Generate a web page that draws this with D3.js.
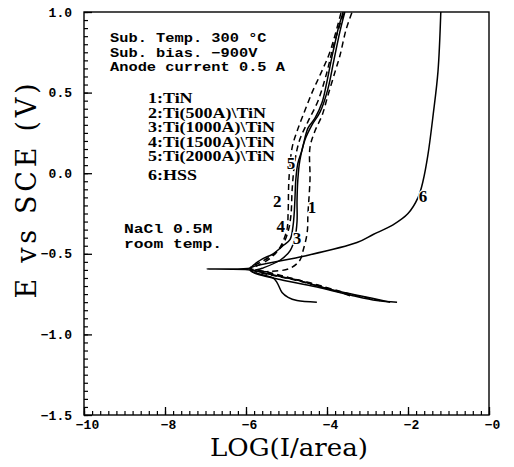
<!DOCTYPE html>
<html>
<head>
<meta charset="utf-8">
<script src="https://cdn.jsdelivr.net/npm/d3@7"></script>
<style>
  html, body { margin: 0; padding: 0; background: #fff; }
  svg { display: block; }
</style>
</head>
<body>
<svg id="chart" width="514" height="467"></svg>
<script>
// ---------- data ----------
const xTickValues = [-10, -8, -6, -4, -2, 0];
const xTickLabels = ["−10", "−8", "−6", "−4", "−2", "−0"];
const yTickValues = [-1.5, -1.0, -0.5, 0.0, 0.5, 1.0];
const yTickLabels = ["−1.5", "−1.0", "−0.5", "0.0", "0.5", "1.0"];

const curveNames = ["1", "2", "3", "4", "5", "6"];
const curveDashed = [true, true, false, true, false, false];

// each curve: [log(I/area), E vs SCE (V)]
const curve1 = [[-3.80,-0.73],[-4.67,-0.67],[-5.41,-0.63],[-5.78,-0.61],[-5.41,-0.61],[-4.91,-0.59],
  [-4.67,-0.54],[-4.59,-0.48],[-4.49,-0.37],[-4.47,-0.25],[-4.42,-0.04],[-4.42,0.16],[-4.30,0.26],
  [-4.12,0.36],[-3.98,0.48],[-3.80,0.63],[-3.68,0.73],[-3.53,0.89],[-3.38,1.00]];
const curve2 = [[-3.43,-0.76],[-4.17,-0.70],[-4.91,-0.65],[-5.53,-0.61],[-5.90,-0.59],
  [-5.78,-0.58],[-5.41,-0.53],[-5.16,-0.46],[-4.99,-0.35],[-4.96,-0.25],[-4.94,-0.04],[-4.86,0.16],
  [-4.74,0.26],[-4.59,0.36],[-4.37,0.50],[-4.17,0.61],[-3.93,0.75],[-3.65,1.00]];
const curve3 = [[-4.25,-0.80],[-4.74,-0.79],[-4.96,-0.77],[-5.11,-0.74],[-5.23,-0.68],[-5.33,-0.65],
  [-5.60,-0.63],[-5.85,-0.61],[-5.60,-0.59],[-5.16,-0.54],[-4.91,-0.48],[-4.79,-0.40],[-4.74,-0.30],
  [-4.74,-0.17],[-4.72,-0.04],[-4.67,0.08],[-4.54,0.21],[-4.37,0.30],[-4.17,0.38],[-3.98,0.52],
  [-3.83,0.70],[-3.68,0.88],[-3.56,1.00]];
const curve4 = [[-2.69,-0.79],[-3.43,-0.75],[-4.42,-0.68],[-5.28,-0.63],[-5.90,-0.59],
  [-5.70,-0.56],[-5.36,-0.51],[-5.11,-0.45],[-4.96,-0.36],[-4.89,-0.26],[-4.86,-0.10],[-4.79,0.08],
  [-4.67,0.21],[-4.47,0.32],[-4.22,0.45],[-4.02,0.61],[-3.83,0.80],[-3.58,1.00]];
const curve5 = [[-2.27,-0.80],[-2.77,-0.79],[-3.36,-0.76],[-4.17,-0.71],[-5.16,-0.66],[-5.90,-0.60],
  [-5.65,-0.54],[-5.33,-0.50],[-5.09,-0.45],[-4.91,-0.41],[-4.84,-0.33],[-4.81,-0.25],[-4.79,-0.15],
  [-4.77,-0.04],[-4.72,0.06],[-4.62,0.14],[-4.47,0.28],[-4.30,0.34],[-4.12,0.44],[-4.00,0.57],
  [-3.88,0.72],[-3.80,0.81],[-3.73,0.89],[-3.60,1.00]];
const curve6 = [[-2.44,-0.80],[-3.19,-0.76],[-3.93,-0.72],[-4.79,-0.66],[-5.53,-0.62],[-5.90,-0.60],
  [-6.96,-0.594],[-5.90,-0.59],[-5.83,-0.58],[-4.67,-0.52],[-3.26,-0.43],[-2.86,-0.38],[-2.37,-0.32],
  [-2.00,-0.25],[-1.75,-0.15],[-1.63,-0.05],[-1.51,0.11],[-1.38,0.36],[-1.26,0.63],[-1.19,1.00]];
const curves = [curve1, curve2, curve3, curve4, curve5, curve6];

// curve number labels at [log(I/area), E]
const curveLabelPos = [[-4.37,-0.21],[-5.23,-0.17],[-4.74,-0.40],[-5.14,-0.33],[-4.89,0.06],[-1.63,-0.14]];

const infoLines = ["Sub. Temp. 300 °C", "Sub. bias. −900V", "Anode current 0.5 A"];
const legendLines = ["1:TiN", "2:Ti(500A)\\TiN", "3:Ti(1000A)\\TiN", "4:Ti(1500A)\\TiN", "5:Ti(2000A)\\TiN", "6:HSS"];
const solutionLines = ["NaCl 0.5M", "room temp."];
const xTitle = "LOG(I/area)";
const yTitle = "E vs SCE (V)";

// ---------- layout ----------
const svg = d3.select("#chart");
const L = 84, R = 489, T = 12, B = 415;
const x = d3.scaleLinear().domain([-10, 0]).range([L, R]);
const y = d3.scaleLinear().domain([-1.5, 1.0]).range([B, T]);

const tickFont = "'Liberation Mono', 'DejaVu Sans Mono', monospace";

// minor ticks
const xMinor = d3.range(-10, 0.0001, 0.2);
const yMinor = d3.range(-1.5, 1.0001, 0.05);

svg.append("g").attr("transform", `translate(0,${B})`)
  .call(d3.axisBottom(x).tickValues(xMinor).tickSize(-4).tickFormat(""))
  .call(g => g.select(".domain").remove())
  .selectAll("line").attr("stroke", "#000").attr("stroke-width", 1.2);
svg.append("g").attr("transform", `translate(${L},0)`)
  .call(d3.axisLeft(y).tickValues(yMinor).tickSize(-4).tickFormat(""))
  .call(g => g.select(".domain").remove())
  .selectAll("line").attr("stroke", "#000").attr("stroke-width", 1.2);

// major ticks with labels
const xAxis = svg.append("g").attr("transform", `translate(0,${B})`)
  .call(d3.axisBottom(x).tickValues(xTickValues).tickSize(-8).tickPadding(5)
    .tickFormat((d, i) => xTickLabels[i]));
xAxis.select(".domain").remove();
xAxis.selectAll("line").attr("stroke", "#000").attr("stroke-width", 1.3);
xAxis.selectAll("text").attr("font-family", tickFont).attr("font-weight", "bold")
  .attr("font-size", 13).attr("fill", "#000").attr("dx", 3);

const yAxis = svg.append("g").attr("transform", `translate(${L},0)`)
  .call(d3.axisLeft(y).tickValues(yTickValues).tickSize(-8).tickPadding(12)
    .tickFormat((d, i) => yTickLabels[i]));
yAxis.select(".domain").remove();
yAxis.selectAll("line").attr("stroke", "#000").attr("stroke-width", 1.3);
yAxis.selectAll("text").attr("font-family", tickFont).attr("font-weight", "bold")
  .attr("font-size", 13).attr("fill", "#000");

// frame
svg.append("rect").attr("x", L).attr("y", T).attr("width", R - L).attr("height", B - T)
  .attr("fill", "none").attr("stroke", "#000").attr("stroke-width", 1.4);

// clip
svg.append("clipPath").attr("id", "plotclip").append("rect")
  .attr("x", L).attr("y", T).attr("width", R - L).attr("height", B - T);

const line = d3.line().x(d => x(d[0])).y(d => y(d[1])).curve(d3.curveCatmullRom.alpha(0.5));

svg.append("g").attr("clip-path", "url(#plotclip)")
  .selectAll("path").data(curves).join("path")
  .attr("d", line)
  .attr("fill", "none")
  .attr("stroke", "#000")
  .attr("stroke-width", 1.5)
  .attr("stroke-dasharray", (d, i) => curveDashed[i] ? "6,4" : null);

// curve labels
svg.append("g").selectAll("text").data(curveLabelPos).join("text")
  .attr("x", d => x(d[0])).attr("y", d => y(d[1]))
  .attr("text-anchor", "middle").attr("dy", "0.35em")
  .attr("font-family", "'Liberation Serif', 'DejaVu Serif', serif")
  .attr("font-weight", "bold").attr("font-size", 17).attr("fill", "#000")
  .attr("stroke", "#fff").attr("stroke-width", 2.5).attr("paint-order", "stroke")
  .text((d, i) => curveNames[i]);

// helper: stretch a block of text lines so that one reference line reaches a target width
function stretch(sel, refIndex, targetWidth) {
  const nodes = sel.nodes();
  const f = targetWidth / nodes[refIndex].getComputedTextLength();
  nodes.forEach(n => {
    const w = n.getComputedTextLength();
    n.setAttribute("textLength", (w * f).toFixed(1));
    n.setAttribute("lengthAdjust", "spacingAndGlyphs");
  });
}

// annotation text
const annFont = "'Liberation Mono', 'DejaVu Sans Mono', monospace";
const info = svg.append("g").selectAll("text").data(infoLines).join("text")
  .attr("x", 110).attr("y", (d, i) => 42 + i * 14.5)
  .attr("font-family", annFont).attr("font-weight", "bold").attr("font-size", 12.8)
  .attr("fill", "#000").text(d => d);
stretch(info, 2, 175);

const legend = svg.append("g").selectAll("text").data(legendLines).join("text")
  .attr("x", 148).attr("y", (d, i) => i < 5 ? 103 + i * 14.5 : 180)
  .attr("font-family", "'Liberation Serif', 'DejaVu Serif', serif").attr("font-weight", "bold")
  .attr("font-size", 15).attr("fill", "#000").text(d => d);
stretch(legend, 4, 127);

const sol = svg.append("g").selectAll("text").data(solutionLines).join("text")
  .attr("x", 124).attr("y", (d, i) => 233 + i * 14.5)
  .attr("font-family", annFont).attr("font-weight", "bold").attr("font-size", 12.8)
  .attr("fill", "#000").text(d => d);
stretch(sol, 1, 98);

// axis titles
svg.append("text").attr("x", 289).attr("y", 456).attr("text-anchor", "middle")
  .attr("font-family", "'DejaVu Serif', 'Liberation Serif', serif").attr("font-size", 24)
  .attr("textLength", 158).attr("lengthAdjust", "spacingAndGlyphs")
  .attr("fill", "#000").text(xTitle);

svg.append("text").attr("transform", "translate(36,191) rotate(-90)")
  .attr("text-anchor", "middle")
  .attr("font-family", "'DejaVu Serif', 'Liberation Serif', serif").attr("font-size", 27)
  .attr("textLength", 215).attr("lengthAdjust", "spacing")
  .attr("fill", "#000").text(yTitle);
</script>
</body>
</html>
